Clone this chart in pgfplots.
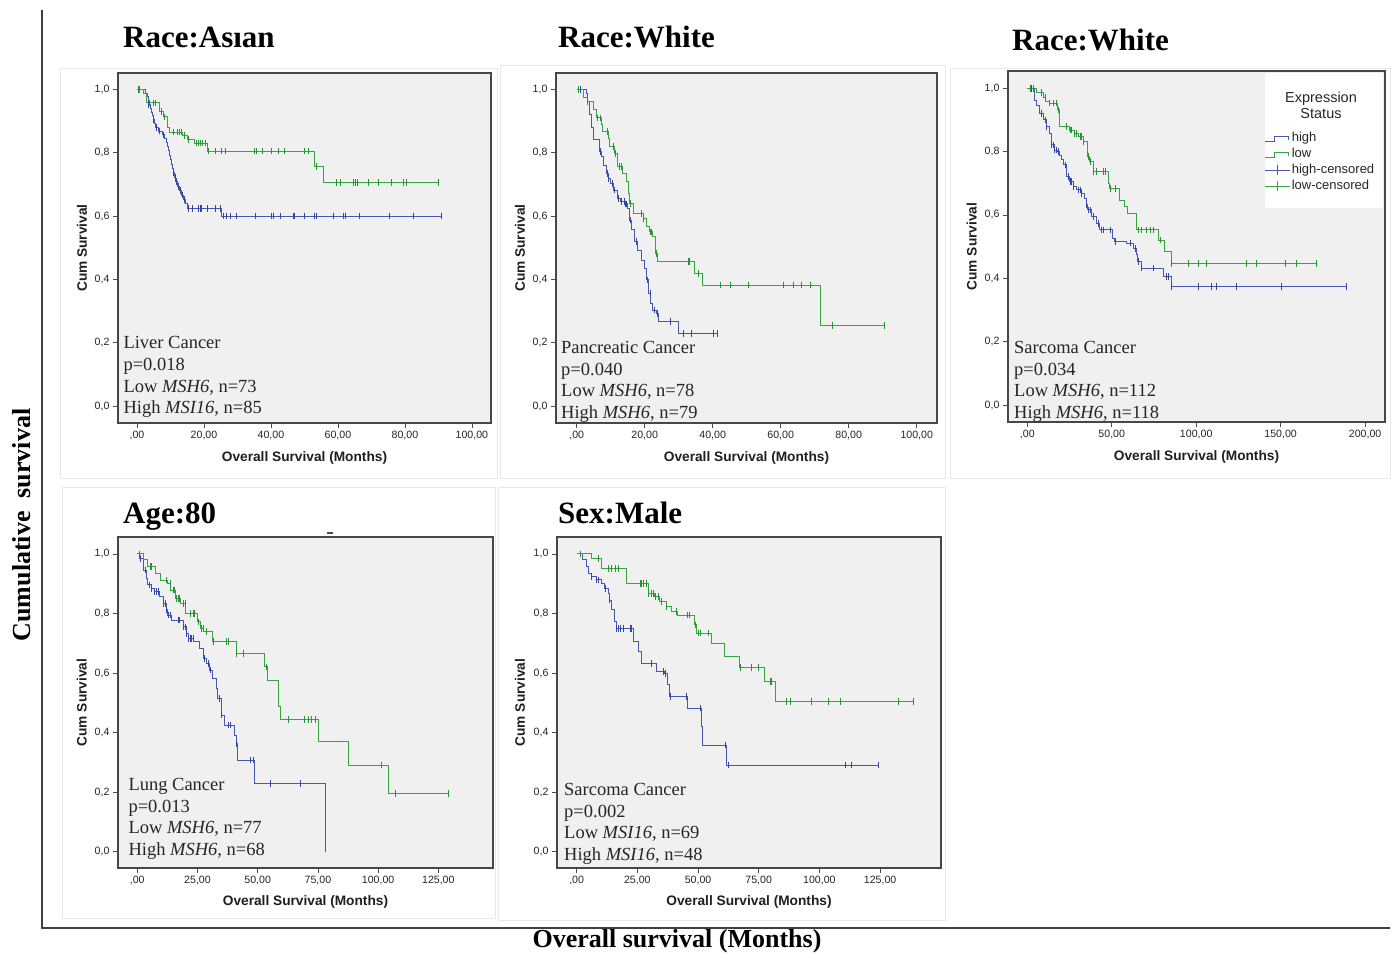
\documentclass[border=0pt]{standalone}
\usepackage{fontspec}
\setmainfont{Liberation Serif}
\setsansfont{Liberation Sans}
\usepackage{pgfplots}
\pgfplotsset{compat=1.18}
\definecolor{kmblue}{RGB}{70,88,178}
\definecolor{kmbluedark}{RGB}{50,70,170}
\definecolor{kmgreen}{RGB}{55,165,65}
\definecolor{kmgreendark}{RGB}{35,150,50}
\definecolor{bgc}{RGB}{240,240,240}
\pgfplotsset{
 panel/.style={scale only axis, anchor=south west,
   axis background/.style={fill=bgc},
   axis line style={line width=1.4pt, draw=black!72},
   tick align=outside, major tick length=5pt,
   every tick/.style={black!70, line width=0.8pt},
   xtick pos=left, ytick pos=left,
   ytick={0,0.2,0.4,0.6,0.8,1},
   yticklabels={{0,0},{0,2},{0,4},{0,6},{0,8},{1,0}},
   tick label style={font=\sffamily\fontsize{10.6}{12}\selectfont, text=black!85},
   xlabel={Overall Survival (Months)}, ylabel={Cum Survival},
   label style={font=\sffamily\bfseries\fontsize{13.7}{15}\selectfont, text=black!88},
   xlabel style={at={(axis description cs:0.5,0)}, anchor=center, yshift=-35pt},
   clip=false},
 hi/.style={const plot, color=kmblue, line width=0.95pt, mark=none, forget plot},
 lo/.style={const plot, color=kmgreen, line width=0.95pt, mark=none, forget plot},
 hic/.style={only marks, mark=|, mark size=3.3pt, mark options={color=kmbluedark, line width=0.9pt}, forget plot},
 loc/.style={only marks, mark=|, mark size=3.3pt, mark options={color=kmgreendark, line width=0.9pt}, forget plot},
 stepleg/.style={legend image code/.code={\draw[##1] (0pt,-2.5pt) -- (9pt,-2.5pt) -- (9pt,2pt) -- (23pt,2pt) -- (23pt,-1.5pt); \path (25pt,0pt);}},
 censleg/.style={legend image code/.code={\draw[##1] (0pt,0pt) -- (25pt,0pt); \draw[##1] (12pt,-5pt) -- (12pt,5pt);}},
}
\tikzset{
 annot/.style={anchor=base west, align=left, inner sep=0pt, font=\fontsize{18.5}{21.8}\selectfont, text=black!85},
 ttl/.style={anchor=base west, inner sep=0pt, font=\bfseries\fontsize{31}{36}\selectfont},
}
\begin{document}
\begin{tikzpicture}
\fill[white] (0pt,0pt) rectangle (1392pt,954pt);
\path[use as bounding box] (0pt,0pt) rectangle (1392pt,954pt);
% faint panel frames
\draw[black!9, line width=0.6pt] (60pt,886pt) rectangle (497pt,476pt);
\draw[black!9, line width=0.6pt] (500pt,889pt) rectangle (945pt,476pt);
\draw[black!9, line width=0.6pt] (950pt,886pt) rectangle (1390pt,476pt);
\draw[black!9, line width=0.6pt] (62pt,467pt) rectangle (495pt,36pt);
\draw[black!9, line width=0.6pt] (498pt,467pt) rectangle (945pt,34pt);

% ---------------- Panel 1: Liver ----------------
\begin{axis}[panel, at={(118pt,531pt)}, width=373pt, height=350pt,
  xmin=-5.67, xmax=105.7, ymin=-0.0537, ymax=1.0515,
  xtick={0,20,40,60,80,100},
  xticklabels={{,00},{20,00},{40,00},{60,00},{80,00},{100,00}},
  ylabel style={at={(axis description cs:-0.0965,0.5)}, anchor=center}]
\addplot[hi] coordinates {(0,1.0) (2.5,0.988) (3.0,0.976) (3.3,0.964) (3.6,0.952) (3.9,0.940) (4.2,0.928) (4.5,0.916) (4.8,0.904) (5.2,0.892) (5.6,0.880) (6.5,0.868) (7.5,0.856) (8.3,0.844) (8.8,0.832) (9.2,0.820) (9.5,0.806) (9.8,0.792) (10.1,0.778) (10.3,0.764) (10.6,0.750) (10.9,0.736) (11.2,0.722) (11.6,0.708) (12.2,0.694) (12.8,0.680) (13.4,0.666) (14.0,0.652) (14.6,0.638) (15.2,0.624) (25.2,0.600) (90.9,0.600)};
\addplot[hic] coordinates {(0.5,1.0) (3.5,0.952) (5.0,0.904) (5.8,0.880) (6.8,0.868) (7.8,0.856) (11.0,0.736) (11.4,0.722) (11.9,0.708) (12.5,0.694) (13.0,0.680) (13.6,0.666) (14.2,0.652) (15.5,0.624) (16.6,0.624) (18.4,0.624) (18.9,0.624) (19.3,0.624) (21.0,0.624) (23.3,0.624) (24.8,0.624) (25.8,0.6) (26.8,0.6) (27.8,0.6) (29.6,0.6) (35.3,0.6) (40.2,0.6) (40.8,0.6) (42.7,0.6) (46.7,0.6) (47.1,0.6) (50.1,0.6) (53.1,0.6) (53.6,0.6) (58.6,0.6) (61.6,0.6) (62.1,0.6) (66.5,0.6) (75.5,0.6) (82.4,0.6) (90.9,0.6)};
\addplot[lo] coordinates {(0,1.0) (1.8,0.986) (2.8,0.957) (6.8,0.929) (7.8,0.913) (9.0,0.881) (9.8,0.865) (13.7,0.855) (15.0,0.841) (17.2,0.830) (21.0,0.805) (53.1,0.757) (55.6,0.705) (89.9,0.705)};
\addplot[loc] coordinates {(0.3,1.0) (0.8,1.0) (3.8,0.957) (4.8,0.957) (5.5,0.957) (7.2,0.929) (8.2,0.913) (10.8,0.865) (12.0,0.865) (12.8,0.865) (13.3,0.865) (14.2,0.855) (15.5,0.841) (17.8,0.830) (18.3,0.830) (18.8,0.830) (19.5,0.830) (20.5,0.830) (21.3,0.805) (23.5,0.805) (25.3,0.805) (26.5,0.805) (35.0,0.805) (35.7,0.805) (37.4,0.805) (40.2,0.805) (42.2,0.805) (44.0,0.805) (50.1,0.805) (51.2,0.805) (53.5,0.757) (59.6,0.705) (60.8,0.705) (64.5,0.705) (65.2,0.705) (65.8,0.705) (69.0,0.705) (72.0,0.705) (76.0,0.705) (79.5,0.705) (80.5,0.705) (89.9,0.705)};
\end{axis}

% ---------------- Panel 2: Pancreatic ----------------
\begin{axis}[panel, at={(556pt,531pt)}, width=381pt, height=350pt,
  xmin=-6.09, xmax=105.97, ymin=-0.0537, ymax=1.0515,
  xtick={0,20,40,60,80,100},
  xticklabels={{,00},{20,00},{40,00},{60,00},{80,00},{100,00}},
  ylabel style={at={(axis description cs:-0.0945,0.5)}, anchor=center}]
\addplot[hi] coordinates {(0,1) (2.8,0.987) (3.3,0.96) (3.8,0.92) (4.3,0.88) (4.8,0.84) (6.8,0.803) (7.2,0.787) (8.0,0.761) (8.7,0.735) (9.2,0.719) (10.0,0.703) (10.7,0.682) (12.1,0.656) (12.9,0.645) (14.1,0.638) (14.9,0.624) (15.4,0.587) (16.1,0.556) (17.1,0.519) (18.0,0.492) (19.0,0.461) (19.8,0.435) (20.5,0.398) (21.0,0.356) (21.8,0.324) (22.4,0.303) (23.4,0.293) (24.1,0.266) (30.0,0.228) (41.6,0.228)};
\addplot[hic] coordinates {(1.0,1.0) (6.9,0.803) (8.9,0.735) (9.3,0.719) (10.5,0.703) (11.0,0.682) (12.4,0.656) (13.2,0.645) (13.9,0.645) (14.3,0.638) (14.6,0.638) (15.7,0.587) (17.5,0.519) (20.8,0.398) (21.6,0.356) (23.0,0.303) (23.6,0.293) (27.5,0.266) (31.4,0.228) (33.8,0.228) (40.2,0.228) (41.4,0.228)};
\addplot[lo] coordinates {(0,1) (1.9,0.975) (3.3,0.962) (4.8,0.935) (5.8,0.910) (7.2,0.890) (7.7,0.866) (9.2,0.845) (9.7,0.820) (11.2,0.798) (12.1,0.756) (13.6,0.735) (14.6,0.710) (15.1,0.671) (15.6,0.640) (16.6,0.608) (19.5,0.592) (20.5,0.566) (21.5,0.550) (22.4,0.534) (23.1,0.482) (23.7,0.456) (34.5,0.419) (36.9,0.382) (71.6,0.254) (90.4,0.254)};
\addplot[loc] coordinates {(0.5,1) (3.1,0.962) (6.0,0.910) (7.0,0.910) (9.0,0.866) (10.8,0.820) (11.5,0.798) (12.6,0.756) (13.3,0.756) (15.8,0.640) (19.0,0.608) (19.7,0.592) (21.6,0.550) (22.1,0.550) (23.5,0.482) (32.8,0.456) (33.3,0.456) (35.7,0.419) (42.2,0.382) (45.1,0.382) (50.5,0.382) (60.8,0.382) (63.7,0.382) (66.2,0.382) (68.6,0.382) (75.2,0.254) (90.4,0.254)};
\end{axis}

% ---------------- Panel 3: Sarcoma (Race White) ----------------
\begin{axis}[panel, at={(1008pt,532pt)}, width=377pt, height=351pt,
  xmin=-11.43, xmax=211.8, ymin=-0.0537, ymax=1.0546,
  xtick={0,50,100,150,200},
  xticklabels={{,00},{50,00},{100,00},{150,00},{200,00}},
  ylabel style={at={(axis description cs:-0.0963,0.5)}, anchor=center},
  legend style={at={(rel axis cs:0.681,0.829)}, anchor=north west, draw=none, fill=none,
    font=\sffamily\fontsize{13}{14}\selectfont, text=black!85, row sep=1.5pt, inner sep=0pt,
    nodes={inner sep=1pt, text height=9.5pt, text depth=3pt},
    /tikz/every odd column/.append style={column sep=0pt}},
  legend cell align=left]
\fill[white] (rel axis cs:0.6817,0.6097) rectangle (rel axis cs:0.9947,0.9943);
\addplot[hi] coordinates {(0,1) (3.96,0.963) (5.35,0.947) (7.3,0.921) (9.3,0.900) (11.3,0.879) (13.2,0.858) (14.2,0.821) (15.8,0.805) (17.8,0.800) (19.2,0.789) (20.1,0.774) (21.7,0.758) (23.1,0.721) (25.1,0.705) (27.1,0.689) (29.0,0.679) (32.0,0.668) (33.9,0.653) (34.9,0.632) (35.9,0.616) (37.9,0.595) (40.9,0.574) (42.5,0.553) (50.7,0.526) (51.7,0.516) (58.6,0.511) (62.6,0.495) (64.5,0.474) (65.5,0.453) (67.5,0.432) (80.5,0.405) (85.5,0.374) (188.7,0.374)};
\addplot[hic] coordinates {(2.6,1.0) (8.5,0.921) (10.5,0.900) (11.5,0.879) (14.4,0.821) (15.4,0.821) (16.2,0.805) (17.4,0.805) (18.4,0.800) (22.3,0.758) (24.3,0.721) (25.3,0.705) (26.3,0.705) (27.2,0.689) (30.2,0.679) (31.2,0.679) (32.2,0.668) (35.1,0.632) (36.1,0.616) (37.1,0.616) (39.1,0.595) (42.1,0.574) (44.0,0.553) (45.0,0.553) (49.0,0.553) (51.9,0.516) (60.8,0.511) (63.8,0.495) (65.7,0.453) (67.7,0.432) (74.6,0.432) (82.5,0.405) (83.5,0.405) (85.5,0.374) (101.3,0.374) (109.2,0.374) (112.1,0.374) (124.0,0.374) (150.6,0.374) (188.7,0.374)};
\addplot[lo] coordinates {(0,1) (5.3,0.986) (9.3,0.970) (11.0,0.958) (13.2,0.953) (17.8,0.932) (19.2,0.879) (25.1,0.868) (28.0,0.858) (30.0,0.847) (33.0,0.831) (35.5,0.784) (36.9,0.768) (38.9,0.737) (47.8,0.700) (48.8,0.684) (54.7,0.647) (57.6,0.626) (59.6,0.605) (64.5,0.553) (77.4,0.521) (81.3,0.484) (85.3,0.447) (171.4,0.447)};
\addplot[loc] coordinates {(1.6,1) (3.6,1) (8.5,0.986) (10.5,0.970) (13.4,0.953) (15.4,0.953) (17.4,0.953) (18.4,0.932) (23.3,0.879) (25.3,0.868) (26.3,0.868) (28.2,0.858) (29.2,0.858) (31.2,0.847) (32.2,0.847) (33.2,0.831) (36.1,0.784) (37.1,0.768) (39.1,0.737) (41.1,0.737) (45.0,0.737) (46.0,0.737) (49.0,0.684) (51.9,0.684) (65.7,0.553) (67.7,0.553) (70.7,0.553) (72.7,0.553) (74.6,0.553) (78.6,0.521) (85.5,0.447) (95.4,0.447) (101.3,0.447) (106.2,0.447) (129.9,0.447) (135.8,0.447) (152.6,0.447) (159.5,0.447) (171.4,0.447)};
\addlegendimage{kmblue, line width=0.9pt, stepleg}
\addlegendentry{high}
\addlegendimage{kmgreen, line width=0.9pt, stepleg}
\addlegendentry{low}
\addlegendimage{kmblue, line width=0.9pt, censleg}
\addlegendentry{high-censored}
\addlegendimage{kmgreen, line width=0.9pt, censleg}
\addlegendentry{low-censored}
\end{axis}

% ---------------- Panel 4: Lung (Age 80) ----------------
\begin{axis}[panel, at={(118pt,86pt)}, width=375pt, height=331pt,
  xmin=-8.0, xmax=147.7, ymin=-0.0548, ymax=1.057,
  xtick={0,25,50,75,100,125},
  xticklabels={{,00},{25,00},{50,00},{75,00},{100,00},{125,00}},
  ylabel style={at={(axis description cs:-0.0968,0.5)}, anchor=center},
  xlabel style={yshift=1pt}]
\addplot[hi] coordinates {(0,1) (1.0,0.985) (2.4,0.946) (3.75,0.918) (4.4,0.896) (5.8,0.884) (7.2,0.873) (9.3,0.857) (10.7,0.834) (12.0,0.812) (12.7,0.795) (14.1,0.778) (19.0,0.755) (20.4,0.733) (21.1,0.716) (23.5,0.705) (25.9,0.683) (27.3,0.649) (28.7,0.632) (30.1,0.610) (31.4,0.582) (32.8,0.548) (33.5,0.515) (34.9,0.459) (36.3,0.425) (40.4,0.392) (41.1,0.364) (41.8,0.308) (48.7,0.230) (78.2,0.0)};
\addplot[hic] coordinates {(1.4,0.985) (3.2,0.946) (5.0,0.896) (6.0,0.884) (7.3,0.873) (8.0,0.873) (8.7,0.873) (10.8,0.834) (11.5,0.834) (12.2,0.812) (12.9,0.795) (13.6,0.795) (17.0,0.778) (17.7,0.778) (19.1,0.755) (19.8,0.755) (20.5,0.733) (21.2,0.716) (21.9,0.716) (22.6,0.716) (23.3,0.716) (28.1,0.649) (29.5,0.632) (30.2,0.610) (34.3,0.515) (35.0,0.459) (37.8,0.425) (38.5,0.425) (41.3,0.364) (46.8,0.308) (48.2,0.308) (55.1,0.230) (67.6,0.230)};
\addplot[lo] coordinates {(0,1) (2.4,0.98) (4.4,0.957) (7.6,0.935) (9.7,0.912) (12.5,0.900) (13.8,0.879) (15.9,0.851) (18.0,0.834) (20.0,0.800) (24.9,0.772) (26.3,0.750) (27.5,0.740) (31.1,0.705) (41.0,0.666) (53.0,0.621) (54.0,0.576) (58.7,0.487) (59.4,0.443) (75.3,0.370) (87.7,0.291) (104.2,0.196) (129.2,0.196)};
\addplot[loc] coordinates {(1.1,1.0) (5.3,0.957) (6.0,0.957) (12.2,0.912) (13.6,0.900) (15.0,0.879) (15.6,0.879) (16.3,0.851) (17.0,0.851) (17.7,0.851) (19.1,0.834) (19.8,0.834) (21.9,0.800) (23.3,0.800) (23.9,0.800) (25.3,0.772) (26.7,0.750) (27.4,0.750) (28.8,0.740) (31.6,0.705) (37.1,0.705) (37.8,0.705) (41.3,0.666) (44.0,0.666) (53.7,0.621) (62.7,0.443) (69.6,0.443) (71.0,0.443) (72.4,0.443) (73.8,0.443) (101.5,0.291) (107.0,0.196) (129.2,0.196)};
\end{axis}

% ---------------- Panel 5: Sarcoma (Male) ----------------
\begin{axis}[panel, at={(557pt,86pt)}, width=384pt, height=331pt,
  xmin=-8.1, xmax=150.1, ymin=-0.0548, ymax=1.057,
  xtick={0,25,50,75,100,125},
  xticklabels={{,00},{25,00},{50,00},{75,00},{100,00},{125,00}},
  ylabel style={at={(axis description cs:-0.0964,0.5)}, anchor=center},
  xlabel style={yshift=1pt}]
\addplot[hi] coordinates {(0,1) (2.5,0.980) (4.0,0.957) (4.7,0.935) (6.0,0.924) (8.1,0.913) (10.2,0.901) (11.5,0.885) (12.9,0.868) (13.6,0.845) (14.3,0.812) (15.6,0.772) (16.3,0.750) (23.2,0.705) (25.3,0.672) (26.6,0.633) (32.8,0.605) (36.3,0.599) (37.6,0.560) (38.3,0.521) (45.8,0.482) (51.3,0.420) (52.0,0.358) (61.7,0.291) (124.5,0.291)};
\addplot[hic] coordinates {(1.4,1.0) (6.2,0.924) (8.2,0.913) (8.9,0.913) (11.7,0.885) (13.7,0.845) (16.5,0.750) (17.2,0.750) (17.9,0.750) (19.2,0.750) (22.0,0.750) (22.7,0.750) (30.9,0.633) (35.7,0.605) (36.4,0.599) (38.5,0.521) (45.3,0.521) (50.8,0.482) (61.1,0.358) (62.5,0.291) (110.6,0.291) (113.3,0.291) (124.5,0.291)};
\addplot[lo] coordinates {(0,1) (6.0,0.985) (10.2,0.952) (20.5,0.901) (29.4,0.868) (32.1,0.857) (34.2,0.840) (36.9,0.823) (39.0,0.806) (41.7,0.795) (48.6,0.762) (49.3,0.734) (55.5,0.700) (61.0,0.655) (67.2,0.618) (77.5,0.571) (81.8,0.504) (138.7,0.504)};
\addplot[loc] coordinates {(1.4,1.0) (8.9,0.985) (13.0,0.952) (14.4,0.952) (15.8,0.952) (17.2,0.952) (26.1,0.901) (26.8,0.901) (27.5,0.901) (28.8,0.901) (29.5,0.868) (30.9,0.868) (31.6,0.868) (32.3,0.857) (33.7,0.857) (35.0,0.840) (37.1,0.823) (41.2,0.806) (45.7,0.795) (46.3,0.795) (48.8,0.762) (50.1,0.734) (50.8,0.734) (54.3,0.734) (67.3,0.618) (72.1,0.618) (74.9,0.618) (79.7,0.571) (80.4,0.571) (86.5,0.504) (87.9,0.504) (96.8,0.504) (103.7,0.504) (108.5,0.504) (132.6,0.504) (138.7,0.504)};
\end{axis}

% legend title
\node[align=center, inner sep=0pt, font=\sffamily\fontsize{14.5}{16}\selectfont, text=black!85] at (1321pt,849pt) {Expression\\Status};

% annotations (anchor = baseline of last line)
\node[annot] at (123.3pt,540pt) {Liver Cancer\\p=0.018\\Low \textit{MSH6,} n=73\\High \textit{MSI16}, n=85};
\node[annot] at (561pt,535.3pt) {Pancreatic Cancer\\p=0.040\\Low \textit{MSH6}, n=78\\High \textit{MSH6}, n=79};
\node[annot] at (1014pt,535.3pt) {Sarcoma Cancer\\p=0.034\\Low \textit{MSH6}, n=112\\High \textit{MSH6}, n=118};
\node[annot] at (128.3pt,98.4pt) {Lung Cancer\\p=0.013\\Low \textit{MSH6}, n=77\\High \textit{MSH6}, n=68};
\node[annot] at (564pt,93.3pt) {Sarcoma Cancer\\p=0.002\\Low \textit{MSI16}, n=69\\High \textit{MSI16}, n=48};

% titles
\node[ttl] at (123pt,906pt) {Race:Asıan};
\node[ttl] at (558pt,906pt) {Race:White};
\node[ttl] at (1012pt,903pt) {Race:White};
\node[ttl] at (123pt,430pt) {Age:80};
\node[ttl] at (558pt,430pt) {Sex:Male};
\draw[black!70, line width=1.2pt] (327pt,421pt) -- (333pt,421pt);

% outer frame and labels
\draw[black!75, line width=1.5pt] (42pt,944pt) -- (42pt,26pt) -- (1390pt,26pt);
\node[rotate=90, inner sep=0pt, font=\bfseries\fontsize{26}{30}\selectfont] at (22pt,429pt) {Cumulative\hspace{0.5em}survival};
\node[inner sep=0pt, font=\bfseries\fontsize{26}{30}\selectfont] at (677pt,13pt) {Overall survival (Months)};
\end{tikzpicture}
\end{document}
